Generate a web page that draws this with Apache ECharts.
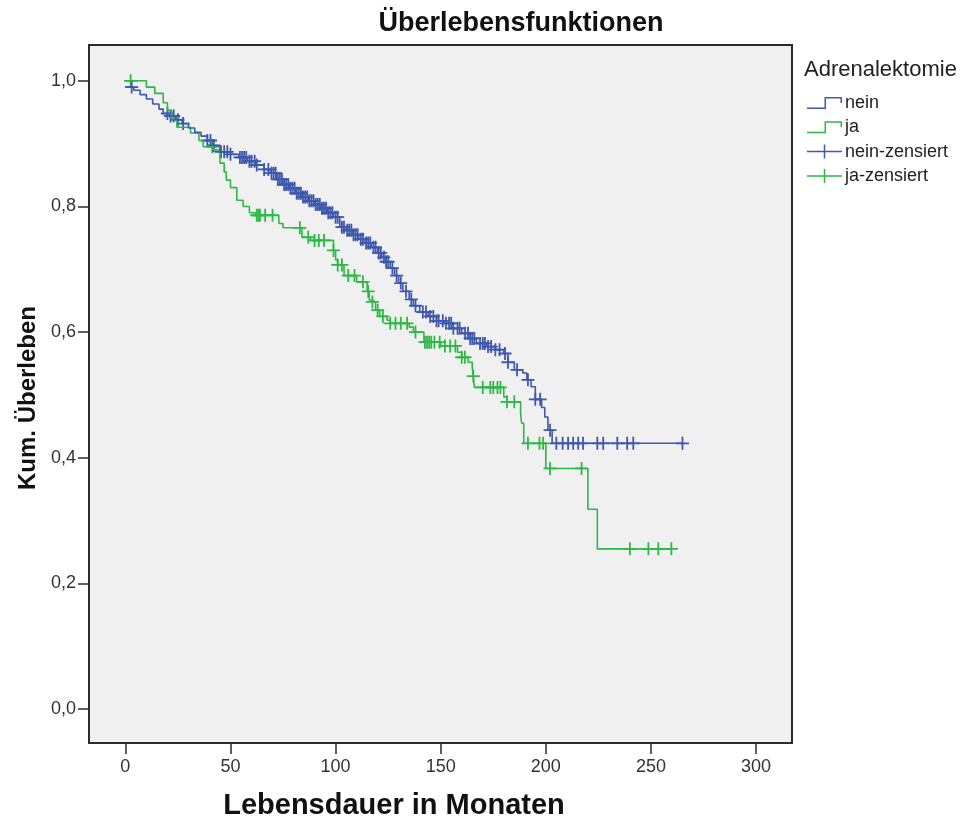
<!DOCTYPE html>
<html>
<head>
<meta charset="utf-8">
<title>Überlebensfunktionen</title>
<script src="https://cdn.jsdelivr.net/npm/echarts@6/dist/echarts.min.js"></script>
<style>
  html, body { margin: 0; padding: 0; background: #ffffff; }
  #chart { width: 960px; height: 818px; }
</style>
</head>
<body>
<div id="chart"></div>
<script>
// Axis ticks
const xTicks = [0, 50, 100, 150, 200, 250, 300];
const yTicks = [0, 0.2, 0.4, 0.6, 0.8, 1.0];

// Kaplan-Meier survival, group "nein": step times (months) and survival after each step
const neinTime = [0, 4, 7, 10, 13, 16, 18, 21, 24, 27, 30, 33, 36, 39, 42, 45, 50, 54, 58, 62,
  66, 69, 72, 75, 78, 81, 84, 87, 90, 93, 96, 99, 102, 105, 108, 111, 114, 117, 120, 122,
  124, 126, 128, 130, 132, 135, 137, 140, 144, 148, 152, 156, 160, 164, 167, 172, 176, 180, 182, 185,
  189, 191, 193, 195, 198, 199.5, 201, 203, 265];
const neinSurv = [0.99, 0.985, 0.978, 0.971, 0.963, 0.955, 0.948, 0.944, 0.938, 0.932, 0.925, 0.918, 0.912, 0.905, 0.897, 0.887, 0.883, 0.878, 0.872, 0.866,
  0.859, 0.853, 0.843, 0.835, 0.829, 0.821, 0.815, 0.809, 0.803, 0.797, 0.790, 0.783, 0.767, 0.762, 0.755, 0.748, 0.742, 0.735, 0.726, 0.719,
  0.712, 0.702, 0.690, 0.678, 0.665, 0.652, 0.642, 0.632, 0.625, 0.618, 0.614, 0.606, 0.598, 0.590, 0.582, 0.577, 0.572, 0.566, 0.552, 0.540,
  0.535, 0.524, 0.513, 0.493, 0.480, 0.465, 0.444, 0.423, 0.423];

// Kaplan-Meier survival, group "ja"
const jaTime = [0, 10, 14, 18, 20, 22, 24.5, 31, 35, 37, 42, 45, 47, 48, 50, 53, 56, 59, 62, 73,
  75, 84, 88, 99, 100, 101, 104, 110, 115, 116, 117.5, 119, 121, 124.5, 126, 135, 137, 142, 150, 158,
  160, 163, 165, 165.5, 166, 180, 181.5, 188, 188.5, 189.5, 200, 220, 224.5, 259.7];
const jaSurv = [1.0, 0.99, 0.98, 0.965, 0.953, 0.94, 0.926, 0.917, 0.905, 0.895, 0.89, 0.869, 0.855, 0.842, 0.83, 0.81, 0.80, 0.79, 0.786, 0.773,
  0.766, 0.751, 0.746, 0.73, 0.715, 0.707, 0.69, 0.68, 0.665, 0.651, 0.648, 0.635, 0.625, 0.619, 0.614, 0.608, 0.60, 0.584, 0.578, 0.568,
  0.56, 0.552, 0.544, 0.53, 0.512, 0.497, 0.489, 0.47, 0.455, 0.423, 0.383, 0.318, 0.255, 0.255];

// Censored observation times (months)
const neinCensored = [3, 20, 21.5, 23, 25, 27.5, 39, 40.5, 42, 45.5, 47, 48.5, 50, 54.5, 55.5, 56.5, 57.5, 59, 60, 61.5,
  62.5, 66, 68, 69.5, 70.5, 71.5, 72.5, 73.5, 74.5, 75.5, 76.5, 77.5, 78.5, 79.5, 80.5, 81.5, 82.5, 83.5, 84.5, 85.5,
  86.5, 87.5, 88.5, 89.5, 90.5, 91.5, 92.5, 93.5, 94.5, 95.5, 96.5, 97.5, 98.5, 100, 101, 103, 104, 105.5, 106.5, 107.5,
  108.5, 109.5, 110.5, 112, 113, 114.5, 115.5, 116.5, 118, 119, 120.5, 121.5, 123, 124, 125, 127, 129, 131, 133.5, 136,
  138, 141.5, 143, 145, 146.5, 148, 149, 151, 152.5, 154, 155, 156, 158, 159, 161.6, 163, 164, 165, 166, 168.7,
  170, 171, 172.5, 174, 176, 178, 180.6, 182, 186.3, 191.5, 195, 197.3, 202, 205, 208, 210.6, 213, 215.4, 217.7, 224.5,
  227.3, 234, 238.7, 241.6, 265];
const jaCensored = [2.5, 41.3, 62.5, 63.3, 64, 66.5, 70, 83, 87, 90, 92, 94.5, 99, 101, 103, 106, 109, 113, 115.5, 117.5,
  120, 122.5, 126, 128.5, 131, 134, 138, 142.5, 143.5, 144.5, 145.5, 147, 149.5, 152, 154.5, 157, 160, 161.5, 165.5, 170,
  173.6, 175, 177, 178.4, 181.5, 185, 191.5, 197, 198.7, 202, 217, 240, 248.8, 253.5, 259.7];

const BLUE = '#3e58ac';
const GREEN = '#2eb848';
const FONT = '"Liberation Sans", Arial, sans-serif';

// survival value of a step curve at time t
function survAt(times, surv, t) {
  let v = surv[0];
  for (let i = 0; i < times.length; i++) {
    if (times[i] <= t) v = surv[i]; else break;
  }
  return v;
}
const pairs = (times, surv) => times.map((t, i) => [t, surv[i]]);
const censorPoints = (cens, times, surv) => cens.map(t => [t, survAt(times, surv, t)]);

// plus-shaped marker for censored cases and legend icons
const plusMark = 'path://M5.6,0 H7.4 V5.6 H13 V7.4 H7.4 V13 H5.6 V7.4 H0 V5.6 H5.6 Z';
const plusIcon = 'path://M0,6.25 H16.75 V0 H18.25 V6.25 H35 V7.75 H18.25 V14 H16.75 V7.75 H0 Z';
const stepIcon = 'path://M0,10.5 H17.5 V0 H35 V6 H33.5 V1.5 H19 V12 H0 Z';

const fmtComma = v => v.toFixed(1).replace('.', ',');

const chart = echarts.init(document.getElementById('chart'), null, { renderer: 'canvas' });

chart.setOption({
  animation: false,
  backgroundColor: '#ffffff',
  title: [
    {
      text: 'Überlebensfunktionen',
      left: 516, top: 5, textAlign: 'center',
      textStyle: { fontFamily: FONT, fontSize: 27, fontWeight: 'bold', color: '#111' }
    },
    {
      text: 'Adrenalektomie',
      left: 799, top: 54,
      textStyle: { fontFamily: FONT, fontSize: 22, fontWeight: 'normal', color: '#222' }
    }
  ],
  legend: {
    orient: 'vertical',
    left: 802, top: 89,
    itemWidth: 35, itemHeight: 14, itemGap: 6.3,
    symbolKeepAspect: true,
    selectedMode: false,
    itemStyle: { borderWidth: 0 },
    textStyle: { fontFamily: FONT, fontSize: 18, lineHeight: 18, color: '#222', padding: [0, 0, 0, -2] },
    data: [
      { name: 'nein', icon: stepIcon },
      { name: 'ja', icon: stepIcon },
      { name: 'nein-zensiert', icon: plusIcon },
      { name: 'ja-zensiert', icon: plusIcon }
    ]
  },
  grid: {
    left: 89, top: 45, right: 168, bottom: 75,
    outerBoundsMode: 'none',
    containLabel: false,
    show: true, backgroundColor: '#f0f0f0',
    borderColor: '#2b2b2b', borderWidth: 2
  },
  xAxis: {
    type: 'value',
    min: -17.3, max: 317.1,
    name: 'Lebensdauer in Monaten',
    nameLocation: 'middle', nameGap: 48,
    nameTextStyle: { fontFamily: FONT, fontSize: 29, fontWeight: 'bold', color: '#111', padding: [0, 93, 0, 0] },
    axisLine: { show: false, onZero: false },
    splitLine: { show: false },
    axisTick: { show: true, customValues: xTicks, length: 11, lineStyle: { color: '#2b2b2b', width: 1.5 } },
    axisLabel: { customValues: xTicks, margin: 15, fontFamily: FONT, fontSize: 18, color: '#333' }
  },
  yAxis: {
    type: 'value',
    min: -0.054, max: 1.057,
    name: 'Kum. Überleben',
    nameLocation: 'middle', nameGap: 49,
    nameTextStyle: { fontFamily: FONT, fontSize: 24, fontWeight: 'bold', color: '#111', padding: [0, 8, 0, 0] },
    axisLine: { show: false, onZero: false },
    splitLine: { show: false },
    axisTick: { show: true, customValues: yTicks, length: 11, lineStyle: { color: '#2b2b2b', width: 1.5 } },
    axisLabel: { customValues: yTicks, margin: 13, fontFamily: FONT, fontSize: 18, color: '#333', formatter: fmtComma }
  },
  series: [
    {
      name: 'ja', type: 'line', step: 'end',
      data: pairs(jaTime, jaSurv),
      showSymbol: false, symbol: 'none',
      color: GREEN,
      lineStyle: { color: GREEN, width: 1.6 },
      emphasis: { disabled: true }
    },
    {
      name: 'nein', type: 'line', step: 'end',
      data: pairs(neinTime, neinSurv),
      showSymbol: false, symbol: 'none',
      color: BLUE,
      lineStyle: { color: BLUE, width: 1.6 },
      emphasis: { disabled: true }
    },
    {
      name: 'ja-zensiert', type: 'scatter',
      data: censorPoints(jaCensored, jaTime, jaSurv),
      symbol: plusMark, symbolSize: 13,
      itemStyle: { color: GREEN, opacity: 1 },
      emphasis: { disabled: true }
    },
    {
      name: 'nein-zensiert', type: 'scatter',
      data: censorPoints(neinCensored, neinTime, neinSurv),
      symbol: plusMark, symbolSize: 13,
      itemStyle: { color: BLUE, opacity: 1 },
      emphasis: { disabled: true }
    }
  ]
});
</script>
</body>
</html>
